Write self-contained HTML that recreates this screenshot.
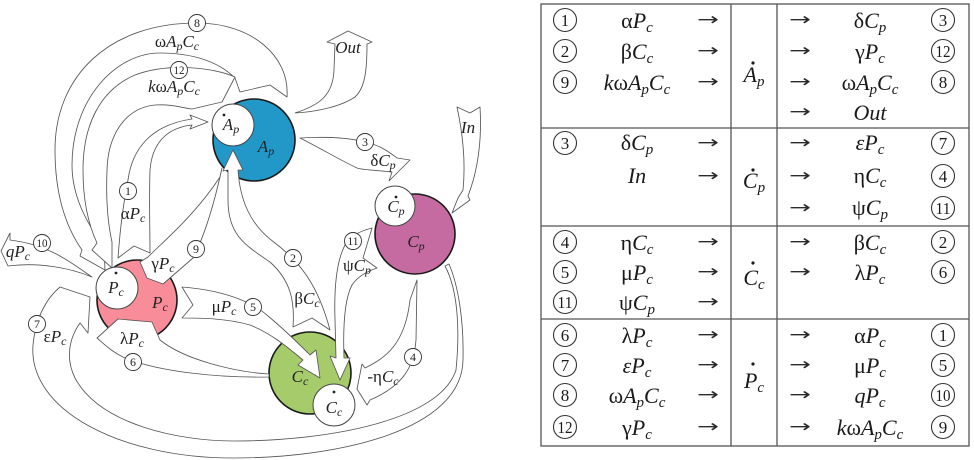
<!DOCTYPE html>
<html><head><meta charset="utf-8"><style>
html,body{margin:0;padding:0;background:#fff}
svg{display:block}
.a{fill:#fff;stroke:#555;stroke-width:.85;stroke-linejoin:round}
.d{font-family:"Liberation Serif",serif;font-size:17px;fill:#222}
.t{font-family:"Liberation Serif",serif;font-size:22px;fill:#1a1a1a}
.ar{font-family:"DejaVu Sans",sans-serif;font-size:20px;fill:#2a2a2a;text-anchor:middle}
.i{font-style:italic}
.ds{font-size:12px}
.sb{font-size:15px}
.cn{fill:#fff;stroke:#333;stroke-width:.9}
.ct{fill:#fff;stroke:#333;stroke-width:1.1}
.n{font-family:"Liberation Serif",serif;font-size:12px;fill:#222;text-anchor:middle}
.tn{font-family:"Liberation Serif",serif;font-size:17px;fill:#1a1a1a;text-anchor:middle}
.g{stroke:#555;stroke-width:1.3;fill:none}
</style></head><body>
<svg width="974" height="460" viewBox="0 0 974 460" xmlns="http://www.w3.org/2000/svg">
<rect width="974" height="460" fill="#fff"/>

<!-- arrow 7 big loop -->
<path class="a" d="M449,264 C458,285 464,320 463,360 C462,430 340,458 233,458 C120,458 28,410 33,345 C36,315 48,297 60,287 L90,297 L88,333 L80,323 C68,340 66,360 75,378 C100,425 180,441 233,441 C330,441 440,420 456,370 C460,330 458,290 445,266 Z"/>
<!-- arrow 8 -->
<path class="a" d="M287,97 C290,55 250,23 197,23 C110,23 55,75 55,150 C55,200 68,230 82,250 L80,256 L105,270 L104,248 C85,220 72,195 72,165 C72,100 115,53 160,53 C195,53 220,63 235,78 L240,92 L270,85 Z"/>
<!-- arrow 12 -->
<path class="a" d="M235,77 C215,68 170,62 135,75 C100,90 83,125 83,170 C83,205 90,228 97,243 L92,250 L112,268 L112,242 C107,220 106,195 107,170 C108,135 125,108 155,105 C172,104 183,108 192,109 L222,102 Z"/>
<!-- arrow 1 -->
<path class="a" d="M118,258 C120,230 124,200 128,180 C132,150 150,125 192,119 L190,115 L208,122 L190,129 L192,125 C165,128 152,145 150,170 C149,200 150,230 150,253 L134,246 Z"/>
<!-- arrow 10 -->
<path class="a" d="M92,277 C70,262 50,245 10,240 L10,233 L1,251 L8,266 C40,262 70,268 92,277 Z"/>
<!-- arrow 3 -->
<path class="a" d="M300,138 C330,136 360,138 380,147 C388,151 393,155 397,158 L410,160 L389,181 L392,172 C375,170 362,170 357,168 C340,160 320,148 300,138 Z"/>
<!-- Out -->
<path class="a" d="M295,113 C320,105 333,95 334,70 L335,44 L327,42 L348,31 L372,42 L367,44 C367,70 365,88 355,97 C340,107 315,112 295,113 Z"/>
<!-- In -->
<path class="a" d="M457,107 C462,130 466,160 463,190 L458,198 L452,213 L470,200 L468,196 C478,170 482,140 480,107 L470,113 Z"/>
<!-- arrow 4 -->
<path class="a" d="M417,280 L416,340 C414,365 405,385 370,400 L367,405 L357,389 L362,364 L365,368 C385,358 405,345 410,300 Z"/>

<!-- big circles -->
<circle cx="254" cy="140" r="41" fill="#2298c9" stroke="#1a1a1a" stroke-width="1.6"/>
<circle cx="415" cy="234" r="40" fill="#c66ba1" stroke="#1a1a1a" stroke-width="1.6"/>
<circle cx="137" cy="300" r="40" fill="#f88c98" stroke="#1a1a1a" stroke-width="1.6"/>
<circle cx="310" cy="373" r="41" fill="#a5cb6b" stroke="#1a1a1a" stroke-width="1.6"/>

<!-- arrows over circles -->
<path class="a" d="M222,168 C215,200 205,235 193,258 L163,284 L147,278 L140,262 L148,257 C165,240 195,215 220,177 Z"/>
<path class="a" d="M293,327 C295,300 290,280 270,262 C245,245 228,235 228,200 L228,170 L223,171 L233,150 L243,170 L238,170 C240,200 250,225 275,243 C300,262 318,285 330,330 L312,318 Z"/>
<path class="a" d="M182,287 C220,290 250,300 268,316 C285,330 300,345 310,355 L316,350 L320,378 L298,365 L303,360 C285,345 270,333 250,325 C225,318 200,318 182,318 L193,305 Z"/>
<path class="a" d="M372,228 C360,231 350,236 345,245 C336,262 334,290 335,320 L336,358 L330,356 L340,380 L350,358 L344,358 C343,330 344,300 352,285 C358,276 368,271 377,268 L363,258 Z"/>
<path class="a" d="M269,374 C235,372 185,360 160,340 L152,322 L118,319 L97,338 C105,345 112,352 125,358 C160,372 220,378 269,377 Z"/>

<!-- inner circles -->
<circle cx="233" cy="125" r="21" fill="#fff" stroke="#444" stroke-width="1"/>
<circle cx="395" cy="206" r="20" fill="#fff" stroke="#444" stroke-width="1"/>
<circle cx="117" cy="288" r="21" fill="#fff" stroke="#444" stroke-width="1"/>
<circle cx="334" cy="405" r="21" fill="#fff" stroke="#444" stroke-width="1"/>

<!-- node labels -->
<text class="d i" x="231" y="130" text-anchor="middle">A<tspan class="ds" dy="3">p</tspan></text>
<circle cx="224" cy="115" r="1.4" fill="#222"/>
<text class="d i" x="396" y="212" text-anchor="middle">C<tspan class="ds" dy="3">p</tspan></text>
<circle cx="396" cy="197" r="1.4" fill="#222"/>
<text class="d i" x="116" y="293" text-anchor="middle">P<tspan class="ds" dy="3">c</tspan></text>
<circle cx="116" cy="273" r="1.4" fill="#222"/>
<text class="d i" x="334" y="413" text-anchor="middle">C<tspan class="ds" dy="3">c</tspan></text>
<circle cx="334" cy="392" r="1.4" fill="#222"/>
<text class="d i" x="266" y="152" text-anchor="middle">A<tspan class="ds" dy="3">p</tspan></text>
<text class="d i" x="416" y="247" text-anchor="middle">C<tspan class="ds" dy="3">p</tspan></text>
<text class="d i" x="160" y="308" text-anchor="middle">P<tspan class="ds" dy="3">c</tspan></text>
<text class="d i" x="300" y="382" text-anchor="middle">C<tspan class="ds" dy="3">c</tspan></text>

<!-- arrow labels -->
<text class="d" x="177" y="47" text-anchor="middle">ω<tspan class="i">A</tspan><tspan class="i ds" dy="3">p</tspan><tspan class="i" dy="-3">C</tspan><tspan class="i ds" dy="3">c</tspan></text>
<text class="d" x="174" y="92" text-anchor="middle"><tspan class="i">k</tspan>ω<tspan class="i">A</tspan><tspan class="i ds" dy="3">p</tspan><tspan class="i" dy="-3">C</tspan><tspan class="i ds" dy="3">c</tspan></text>
<text class="d i" x="348" y="53" text-anchor="middle">Out</text>
<text class="d" x="383" y="166" text-anchor="middle">δ<tspan class="i">C</tspan><tspan class="i ds" dy="3">p</tspan></text>
<text class="d i" x="468" y="133" text-anchor="middle">In</text>
<text class="d" x="133" y="219" text-anchor="middle">α<tspan class="i">P</tspan><tspan class="i ds" dy="3">c</tspan></text>
<text class="d i" x="18" y="257" text-anchor="middle">qP<tspan class="ds" dy="3">c</tspan></text>
<text class="d" x="163" y="269" text-anchor="middle">γ<tspan class="i">P</tspan><tspan class="i ds" dy="3">c</tspan></text>
<text class="d" x="307" y="304" text-anchor="middle">β<tspan class="i">C</tspan><tspan class="i ds" dy="3">c</tspan></text>
<text class="d" x="357" y="271" text-anchor="middle">ψ<tspan class="i">C</tspan><tspan class="i ds" dy="3">p</tspan></text>
<text class="d" x="224" y="312" text-anchor="middle">μ<tspan class="i">P</tspan><tspan class="i ds" dy="3">c</tspan></text>
<text class="d" x="132" y="344" text-anchor="middle">λ<tspan class="i">P</tspan><tspan class="i ds" dy="3">c</tspan></text>
<text class="d" x="55" y="342" text-anchor="middle">ε<tspan class="i">P</tspan><tspan class="i ds" dy="3">c</tspan></text>
<text class="d" x="383" y="382" text-anchor="middle">-η<tspan class="i">C</tspan><tspan class="i ds" dy="3">c</tspan></text>

<!-- diagram circled numbers -->
<circle class="cn" cx="197" cy="23" r="8.5"/><text class="n" x="197" y="27">8</text>
<circle class="cn" cx="179" cy="70" r="8.5"/><text class="n" x="179" y="74" textLength="11" lengthAdjust="spacingAndGlyphs">12</text>
<circle class="cn" cx="128" cy="191" r="8.5"/><text class="n" x="128" y="195">1</text>
<circle class="cn" cx="365" cy="142" r="8.5"/><text class="n" x="365" y="146">3</text>
<circle class="cn" cx="42" cy="243" r="8.5"/><text class="n" x="42" y="247" textLength="11" lengthAdjust="spacingAndGlyphs">10</text>
<circle class="cn" cx="196" cy="249" r="8.5"/><text class="n" x="196" y="253">9</text>
<circle class="cn" cx="293" cy="258" r="8.5"/><text class="n" x="293" y="262">2</text>
<circle class="cn" cx="353" cy="241" r="8.5"/><text class="n" x="353" y="245" textLength="11" lengthAdjust="spacingAndGlyphs">11</text>
<circle class="cn" cx="253" cy="307" r="8.5"/><text class="n" x="253" y="311">5</text>
<circle class="cn" cx="37" cy="324" r="8.5"/><text class="n" x="37" y="328">7</text>
<circle class="cn" cx="133" cy="362" r="8.5"/><text class="n" x="133" y="366">6</text>
<circle class="cn" cx="413" cy="357" r="8.5"/><text class="n" x="413" y="361">4</text>

<!-- TABLE -->
<rect x="541" y="4" width="428" height="442" class="g"/>
<line x1="731" y1="4" x2="731" y2="446" class="g"/>
<line x1="777" y1="4" x2="777" y2="446" class="g"/>
<line x1="541" y1="128" x2="969" y2="128" class="g"/>
<line x1="541" y1="226" x2="969" y2="226" class="g"/>
<line x1="541" y1="319" x2="969" y2="319" class="g"/>

<!-- Block 1 -->
<circle class="ct" cx="565" cy="20" r="11.5"/><text class="tn" x="565" y="26">1</text>
<text class="t" x="637" y="28" text-anchor="middle">α<tspan class="i">P</tspan><tspan class="i sb" dy="4">c</tspan></text>
<text class="ar" transform="translate(708,25) scale(1.3,0.85)">→</text>
<circle class="ct" cx="565" cy="51" r="11.5"/><text class="tn" x="565" y="57">2</text>
<text class="t" x="637" y="59" text-anchor="middle">β<tspan class="i">C</tspan><tspan class="i sb" dy="4">c</tspan></text>
<text class="ar" transform="translate(708,56) scale(1.3,0.85)">→</text>
<circle class="ct" cx="565" cy="82" r="11.5"/><text class="tn" x="565" y="88">9</text>
<text class="t" x="637" y="90" text-anchor="middle"><tspan class="i">k</tspan>ω<tspan class="i">A</tspan><tspan class="i sb" dy="4">p</tspan><tspan class="i" dy="-4">C</tspan><tspan class="i sb" dy="4">c</tspan></text>
<text class="ar" transform="translate(708,87) scale(1.3,0.85)">→</text>

<text class="t i" x="754" y="82" text-anchor="middle">A<tspan class="sb" dy="4">p</tspan></text>
<circle cx="753" cy="63" r="1.6" fill="#1a1a1a"/>

<text class="ar" transform="translate(800,25) scale(1.3,0.85)">→</text>
<text class="t" x="870" y="28" text-anchor="middle">δ<tspan class="i">C</tspan><tspan class="i sb" dy="4">p</tspan></text>
<circle class="ct" cx="943" cy="20" r="11.5"/><text class="tn" x="943" y="26">3</text>
<text class="ar" transform="translate(800,56) scale(1.3,0.85)">→</text>
<text class="t" x="870" y="59" text-anchor="middle">γ<tspan class="i">P</tspan><tspan class="i sb" dy="4">c</tspan></text>
<circle class="ct" cx="943" cy="51" r="11.5"/><text class="tn" x="943" y="57" textLength="15" lengthAdjust="spacingAndGlyphs">12</text>
<text class="ar" transform="translate(800,87) scale(1.3,0.85)">→</text>
<text class="t" x="870" y="90" text-anchor="middle">ω<tspan class="i">A</tspan><tspan class="i sb" dy="4">p</tspan><tspan class="i" dy="-4">C</tspan><tspan class="i sb" dy="4">c</tspan></text>
<circle class="ct" cx="943" cy="82" r="11.5"/><text class="tn" x="943" y="88">8</text>
<text class="ar" transform="translate(800,117) scale(1.3,0.85)">→</text>
<text class="t i" x="870" y="120" text-anchor="middle">Out</text>

<!-- Block 2 -->
<circle class="ct" cx="565" cy="143" r="11.5"/><text class="tn" x="565" y="149">3</text>
<text class="t" x="637" y="150" text-anchor="middle">δ<tspan class="i">C</tspan><tspan class="i sb" dy="4">p</tspan></text>
<text class="ar" transform="translate(708,148) scale(1.3,0.85)">→</text>
<text class="t i" x="637" y="183" text-anchor="middle">In</text>
<text class="ar" transform="translate(708,181) scale(1.3,0.85)">→</text>

<text class="t i" x="754" y="188" text-anchor="middle">C<tspan class="sb" dy="4">p</tspan></text>
<circle cx="753" cy="170" r="1.6" fill="#1a1a1a"/>

<text class="ar" transform="translate(800,148) scale(1.3,0.85)">→</text>
<text class="t" x="870" y="150" text-anchor="middle"><tspan class="i">εP</tspan><tspan class="i sb" dy="4">c</tspan></text>
<circle class="ct" cx="943" cy="143" r="11.5"/><text class="tn" x="943" y="149">7</text>
<text class="ar" transform="translate(800,181) scale(1.3,0.85)">→</text>
<text class="t" x="870" y="183" text-anchor="middle">η<tspan class="i">C</tspan><tspan class="i sb" dy="4">c</tspan></text>
<circle class="ct" cx="943" cy="176" r="11.5"/><text class="tn" x="943" y="182">4</text>
<text class="ar" transform="translate(800,213) scale(1.3,0.85)">→</text>
<text class="t" x="870" y="215" text-anchor="middle">ψ<tspan class="i">C</tspan><tspan class="i sb" dy="4">p</tspan></text>
<circle class="ct" cx="943" cy="208" r="11.5"/><text class="tn" x="943" y="214" textLength="15" lengthAdjust="spacingAndGlyphs">11</text>

<!-- Block 3 -->
<circle class="ct" cx="565" cy="242" r="11.5"/><text class="tn" x="565" y="248">4</text>
<text class="t" x="637" y="250" text-anchor="middle">η<tspan class="i">C</tspan><tspan class="i sb" dy="4">c</tspan></text>
<text class="ar" transform="translate(708,247) scale(1.3,0.85)">→</text>
<circle class="ct" cx="565" cy="272" r="11.5"/><text class="tn" x="565" y="278">5</text>
<text class="t" x="637" y="280" text-anchor="middle">μ<tspan class="i">P</tspan><tspan class="i sb" dy="4">c</tspan></text>
<text class="ar" transform="translate(708,277) scale(1.3,0.85)">→</text>
<circle class="ct" cx="565" cy="302" r="11.5"/><text class="tn" x="565" y="308" textLength="15" lengthAdjust="spacingAndGlyphs">11</text>
<text class="t" x="637" y="310" text-anchor="middle">ψ<tspan class="i">C</tspan><tspan class="i sb" dy="4">p</tspan></text>
<text class="ar" transform="translate(708,307) scale(1.3,0.85)">→</text>

<text class="t i" x="754" y="285" text-anchor="middle">C<tspan class="sb" dy="4">c</tspan></text>
<circle cx="753" cy="263" r="1.6" fill="#1a1a1a"/>

<text class="ar" transform="translate(800,247) scale(1.3,0.85)">→</text>
<text class="t" x="870" y="250" text-anchor="middle">β<tspan class="i">C</tspan><tspan class="i sb" dy="4">c</tspan></text>
<circle class="ct" cx="943" cy="242" r="11.5"/><text class="tn" x="943" y="248">2</text>
<text class="ar" transform="translate(800,277) scale(1.3,0.85)">→</text>
<text class="t" x="870" y="280" text-anchor="middle">λ<tspan class="i">P</tspan><tspan class="i sb" dy="4">c</tspan></text>
<circle class="ct" cx="943" cy="272" r="11.5"/><text class="tn" x="943" y="278">6</text>

<!-- Block 4 -->
<circle class="ct" cx="565" cy="335" r="11.5"/><text class="tn" x="565" y="341">6</text>
<text class="t" x="637" y="343" text-anchor="middle">λ<tspan class="i">P</tspan><tspan class="i sb" dy="4">c</tspan></text>
<text class="ar" transform="translate(708,340) scale(1.3,0.85)">→</text>
<circle class="ct" cx="565" cy="365" r="11.5"/><text class="tn" x="565" y="371">7</text>
<text class="t" x="637" y="373" text-anchor="middle"><tspan class="i">εP</tspan><tspan class="i sb" dy="4">c</tspan></text>
<text class="ar" transform="translate(708,370) scale(1.3,0.85)">→</text>
<circle class="ct" cx="565" cy="395" r="11.5"/><text class="tn" x="565" y="401">8</text>
<text class="t" x="637" y="403" text-anchor="middle">ω<tspan class="i">A</tspan><tspan class="i sb" dy="4">p</tspan><tspan class="i" dy="-4">C</tspan><tspan class="i sb" dy="4">c</tspan></text>
<text class="ar" transform="translate(708,400) scale(1.3,0.85)">→</text>
<circle class="ct" cx="565" cy="427" r="11.5"/><text class="tn" x="565" y="433" textLength="15" lengthAdjust="spacingAndGlyphs">12</text>
<text class="t" x="637" y="435" text-anchor="middle">γ<tspan class="i">P</tspan><tspan class="i sb" dy="4">c</tspan></text>
<text class="ar" transform="translate(708,432) scale(1.3,0.85)">→</text>

<text class="t i" x="754" y="388" text-anchor="middle">P<tspan class="sb" dy="4">c</tspan></text>
<circle cx="753" cy="364" r="1.6" fill="#1a1a1a"/>

<text class="ar" transform="translate(800,340) scale(1.3,0.85)">→</text>
<text class="t" x="870" y="343" text-anchor="middle">α<tspan class="i">P</tspan><tspan class="i sb" dy="4">c</tspan></text>
<circle class="ct" cx="943" cy="335" r="11.5"/><text class="tn" x="943" y="341">1</text>
<text class="ar" transform="translate(800,370) scale(1.3,0.85)">→</text>
<text class="t" x="870" y="373" text-anchor="middle">μ<tspan class="i">P</tspan><tspan class="i sb" dy="4">c</tspan></text>
<circle class="ct" cx="943" cy="365" r="11.5"/><text class="tn" x="943" y="371">5</text>
<text class="ar" transform="translate(800,400) scale(1.3,0.85)">→</text>
<text class="t i" x="870" y="403" text-anchor="middle">qP<tspan class="sb" dy="4">c</tspan></text>
<circle class="ct" cx="943" cy="395" r="11.5"/><text class="tn" x="943" y="401" textLength="15" lengthAdjust="spacingAndGlyphs">10</text>
<text class="ar" transform="translate(800,432) scale(1.3,0.85)">→</text>
<text class="t" x="870" y="435" text-anchor="middle"><tspan class="i">k</tspan>ω<tspan class="i">A</tspan><tspan class="i sb" dy="4">p</tspan><tspan class="i" dy="-4">C</tspan><tspan class="i sb" dy="4">c</tspan></text>
<circle class="ct" cx="943" cy="427" r="11.5"/><text class="tn" x="943" y="433">9</text>
</svg>
</body></html>
